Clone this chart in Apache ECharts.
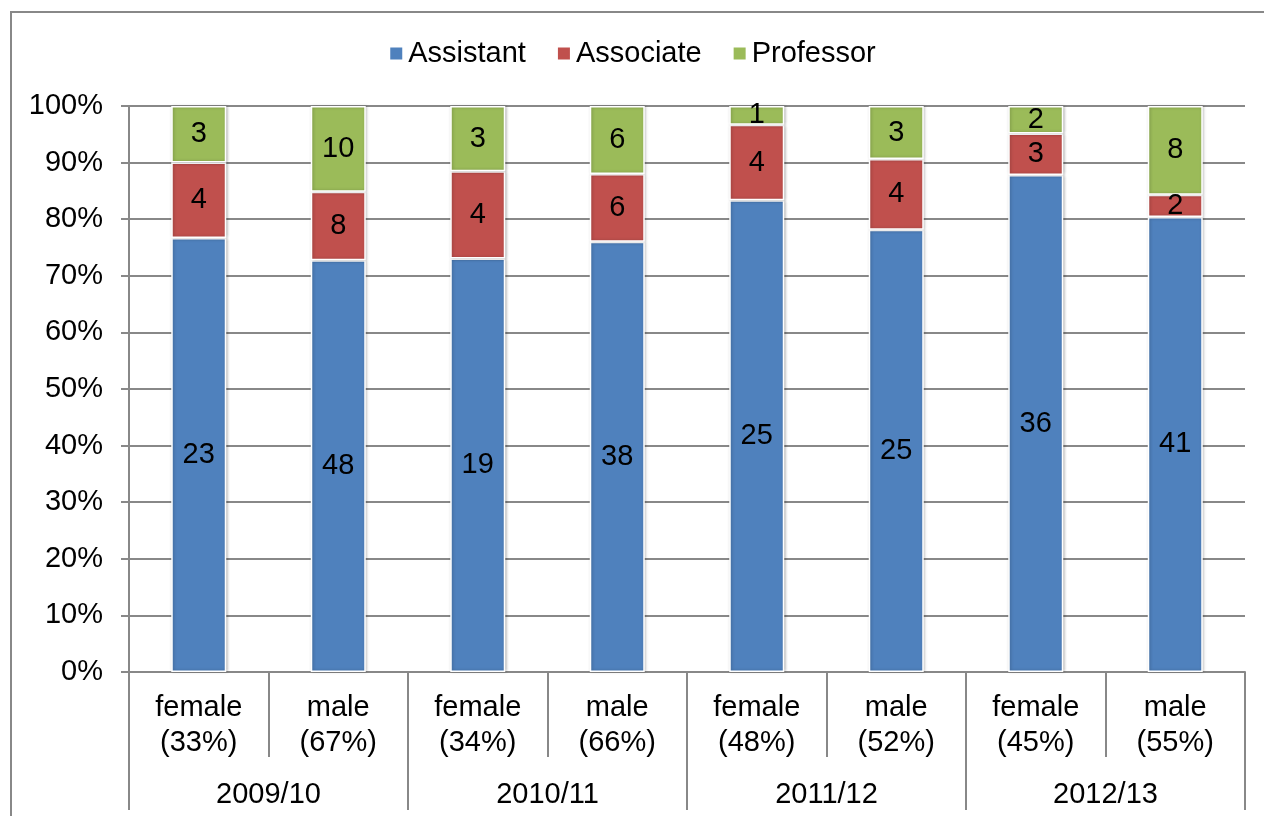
<!DOCTYPE html>
<html>
<head>
<meta charset="utf-8">
<title>Staff by rank and gender</title>
<script src="https://cdn.jsdelivr.net/npm/echarts@6/dist/echarts.min.js"></script>
<style>
  html, body { margin: 0; padding: 0; background: #fff; }
  #chart { width: 1264px; height: 816px; }
</style>
</head>
<body>
<div id="chart"></div>
<script>
// 数据
var years = ['2009/10', '2010/11', '2011/12', '2012/13'];
var genders = ['female', 'male', 'female', 'male', 'female', 'male', 'female', 'male'];
var genderShare = ['33%', '67%', '34%', '66%', '48%', '52%', '45%', '55%'];
var assistant = [23, 48, 19, 38, 25, 25, 36, 41];
var associate = [4, 8, 4, 6, 4, 4, 3, 2];
var professor = [3, 10, 3, 6, 1, 3, 2, 8];
var yTicks = [0, 100, 10];

var counts = [assistant, associate, professor];
var totals = assistant.map(function (v, i) { return v + associate[i] + professor[i]; });
function pct(arr) {
  return arr.map(function (v, i) { return v / totals[i] * 100; });
}
var cats = genders.map(function (g, i) { return g + '\n(' + genderShare[i] + ')'; });

var font = '"Liberation Sans", Arial, sans-serif';
var gray = '#888888';
var fs = 29;

var myChart = echarts.init(document.getElementById('chart'));

function barSeries(name, idx, color) {
  return {
    name: name,
    type: 'bar',
    stack: 'all',
    barWidth: 55,
    data: pct(counts[idx]),
    itemStyle: {
      color: color,
      borderColor: '#fff',
      borderWidth: 1.5,
      shadowBlur: 3,
      shadowColor: 'rgba(0,0,0,0.25)',
      shadowOffsetX: 1
    },
    label: {
      show: true,
      position: 'inside',
      color: '#000',
      fontFamily: font,
      fontSize: fs,
      formatter: function (p) { return counts[idx][p.dataIndex]; }
    }
  };
}

myChart.setOption({
  animation: false,
  textStyle: { fontFamily: font },
  graphic: [{
    type: 'rect',
    shape: { x: 11, y: 12, width: 1400, height: 900 },
    style: { fill: 'none', stroke: gray, lineWidth: 2 }
  }],
  legend: {
    top: 34,
    left: 'center',
    icon: 'rect',
    itemWidth: 14,
    itemHeight: 14,
    itemGap: 30,
    textStyle: { fontSize: fs, color: '#000', fontFamily: font },
    data: ['Assistant', 'Associate', 'Professor']
  },
  grid: { left: 129, right: 19, top: 106, bottom: 144 },
  xAxis: [{
    type: 'category',
    data: cats,
    axisLine: { show: true, lineStyle: { color: gray, width: 2 } },
    axisTick: { show: true, interval: 0, length: 85, lineStyle: { color: gray, width: 2 } },
    axisLabel: { color: '#000', fontSize: fs, lineHeight: 35, margin: 18, interval: 0, fontFamily: font }
  }, {
    type: 'category',
    position: 'bottom',
    offset: 0,
    data: years,
    axisLine: { show: false },
    axisTick: { show: true, interval: 0, length: 138, lineStyle: { color: gray, width: 2 } },
    axisLabel: { color: '#000', fontSize: fs, margin: 108, interval: 0, fontFamily: font }
  }],
  yAxis: {
    type: 'value',
    min: yTicks[0],
    max: yTicks[1],
    interval: yTicks[2],
    axisLine: { show: true, lineStyle: { color: gray, width: 2 } },
    axisTick: { show: true, length: 8, lineStyle: { color: gray, width: 2 } },
    axisLabel: { color: '#000', fontSize: fs, margin: 26, formatter: '{value}%', fontFamily: font },
    splitLine: { lineStyle: { color: gray, width: 2 } }
  },
  series: [
    barSeries('Assistant', 0, '#4F81BD'),
    barSeries('Associate', 1, '#C0504D'),
    barSeries('Professor', 2, '#9BBB59')
  ]
});
</script>
</body>
</html>
